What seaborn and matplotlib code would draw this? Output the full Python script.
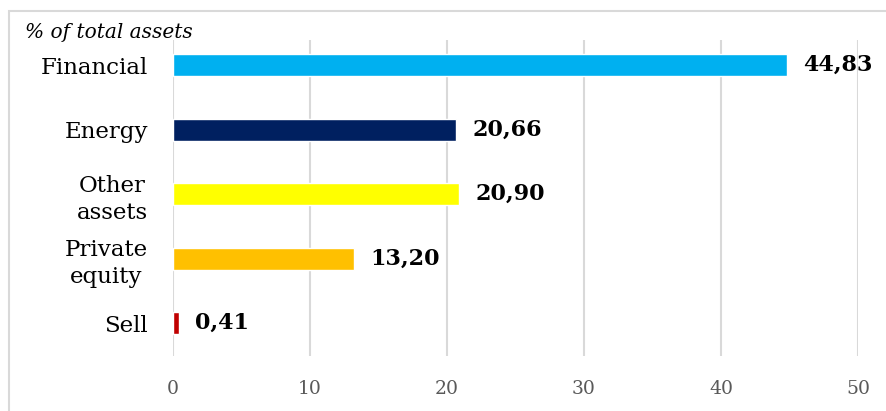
import matplotlib
matplotlib.use("Agg")
import matplotlib.pyplot as plt
import seaborn as sns
import pandas as pd
from matplotlib.patches import Rectangle

categories = ["Financial", "Energy", "Other\nassets", "Private\nequity", "Sell"]
values = [44.83, 20.66, 20.90, 13.20, 0.41]
colors = ["#00B0F0", "#002060", "#FFFF00", "#FFC000", "#C00000"]
value_labels = ["44,83", "20,66", "20,90", "13,20", "0,41"]
xticks = [0, 10, 20, 30, 40, 50]

sns.set_style("white")
plt.rcParams["font.family"] = ["DejaVu Serif"]

df = pd.DataFrame({"category": categories, "value": values})

fig = plt.figure(figsize=(8.87, 4.11), dpi=100)
ax = fig.add_axes([173/887, 1-356/411, (858-173)/887, (356-40)/411])

sns.barplot(data=df, x="value", y="category", hue="category", palette=colors,
            orient="h", width=0.34, ax=ax, legend=False, dodge=False, saturation=1)

ax.set_xlim(0, 50)
ax.set_ylim(4.51, -0.39)
ax.set_xticks(xticks)
ax.set_xticklabels([str(t) for t in xticks], fontsize=13.5, color="#595959")
ax.tick_params(axis="x", length=0, pad=17)
ax.tick_params(axis="y", length=0, pad=18)
for lab in ax.get_yticklabels():
    lab.set_fontsize(16.5)
    lab.set_color("black")
    lab.set_horizontalalignment("right")
    lab.set_multialignment("center")
    lab.set_linespacing(1.3)
ax.set_xlabel("")
ax.set_ylabel("")
ax.grid(axis="x", color="#D9D9D9", linewidth=1.5)
ax.set_axisbelow(True)
for s in ax.spines.values():
    s.set_visible(False)

for i, (v, t) in enumerate(zip(values, value_labels)):
    ax.text(v + 1.2, i, t, va="center", ha="left", fontsize=16, fontweight="bold", color="black")

fig.text(25/887, 1-32/411, "% of total assets", fontsize=14.5, fontstyle="italic",
         va="center", ha="left", color="black")

fig.patches.append(Rectangle((9/887, -0.1), 1.2, 1-11/411+0.1, transform=fig.transFigure,
                             fill=False, edgecolor="#D9D9D9", linewidth=1.5))

fig.savefig("out.png", dpi=100)
